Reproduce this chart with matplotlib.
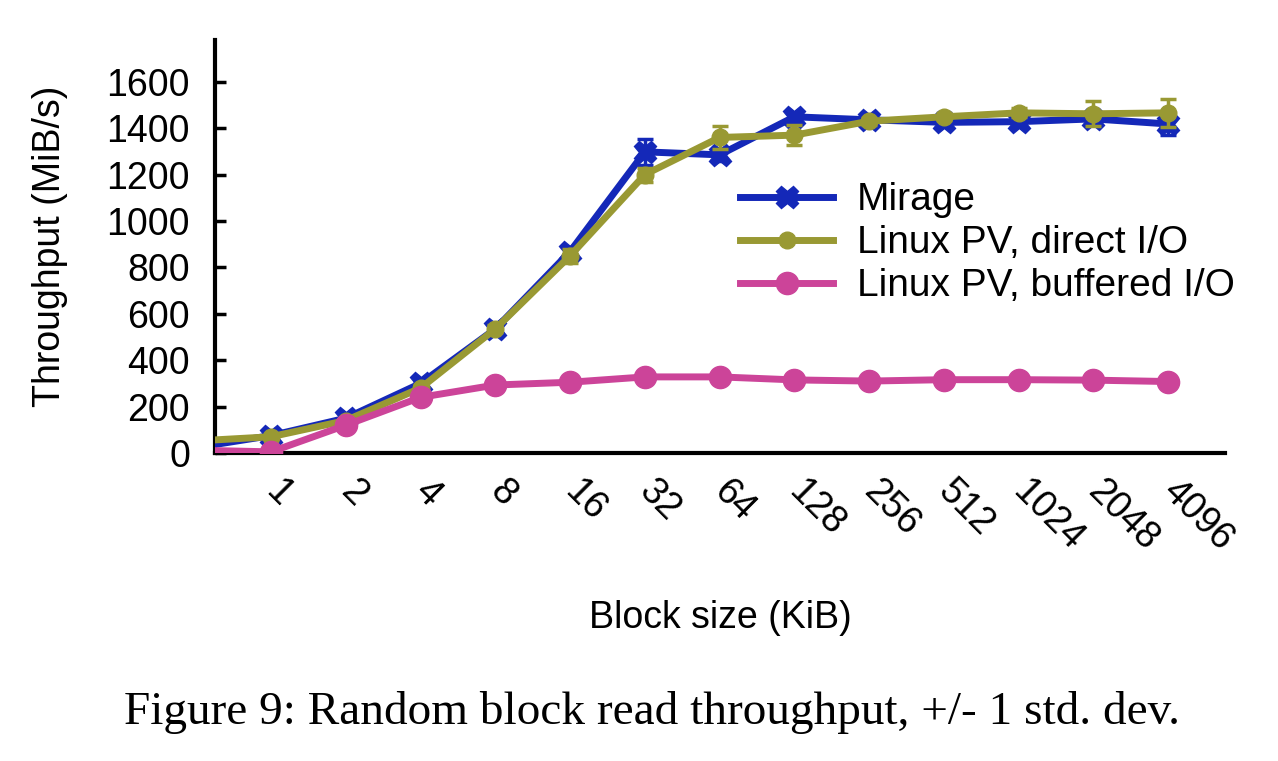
import numpy as np
import matplotlib.pyplot as plt
from matplotlib.lines import Line2D

plt.rcParams['font.family'] = ['Liberation Sans', 'DejaVu Sans']

block_kib = [0.5, 1, 2, 4, 8, 16, 32, 64, 128, 256, 512, 1024, 2048, 4096]
tick_labels = ['1', '2', '4', '8', '16', '32', '64', '128', '256', '512', '1024', '2048', '4096']

mirage = [24, 75, 150, 300, 535, 868, 1298, 1285, 1449, 1436, 1425, 1428, 1440, 1418]
mirage_err = [5, 8, 10, 12, 15, 20, 57, 25, 15, 15, 15, 18, 20, 47]
direct = [52, 70, 140, 280, 535, 850, 1200, 1360, 1370, 1430, 1449, 1466, 1462, 1466]
direct_err = [5, 8, 10, 12, 15, 30, 30, 50, 43, 15, 15, 20, 54, 60]
buffered = [12, 5, 120, 240, 293, 305, 328, 328, 315, 310, 316, 316, 314, 308]

x = np.log2(block_kib)

fig = plt.figure(figsize=(12.78, 7.61), dpi=100)
ax = fig.add_axes([215 / 1278, 1 - 453 / 761, 1010 / 1278, 413 / 761])

blue = '#1428b8'
olive = '#999933'
pink = '#cc4499'

ax.errorbar(x, mirage, yerr=mirage_err, color=blue, lw=5, marker='X', ms=16,
            capsize=6, elinewidth=2.5, capthick=2.5, zorder=3)
ax.errorbar(x, direct, yerr=direct_err, color=olive, lw=5, marker='o', ms=12,
            capsize=6, elinewidth=2.5, capthick=2.5, zorder=4)
ax.plot(x, buffered, color=pink, lw=5, marker='o', ms=16, zorder=5)

ax.set_xlim(-0.75, 12.76)
ax.set_ylim(0, 1780)
ax.set_yticks(range(0, 1601, 200))
ax.set_xticks(x[1:])
ax.set_xticklabels(tick_labels, rotation=-45, ha='left', va='center',
                   rotation_mode='anchor', fontsize=27)
ax.tick_params(axis='x', length=0, pad=24)
ax.tick_params(axis='y', direction='in', length=8, width=2.5, labelsize=27, pad=18)
for s in ['top', 'right']:
    ax.spines[s].set_visible(False)
for s in ['left', 'bottom']:
    ax.spines[s].set_linewidth(3)

ax.set_ylabel('Throughput (MiB/s)', fontsize=27, labelpad=28)
ax.set_xlabel('Block size (KiB)', fontsize=27, labelpad=30)

handles = [
    Line2D([], [], color=blue, lw=5, marker='X', ms=16),
    Line2D([], [], color=olive, lw=5, marker='o', ms=12),
    Line2D([], [], color=pink, lw=5, marker='o', ms=16),
]
labels = ['Mirage', 'Linux PV, direct I/O', 'Linux PV, buffered I/O']
ax.legend(handles, labels, loc='upper left', bbox_to_anchor=(525 / 1010, 0.655),
          frameon=False, fontsize=28, handlelength=2.4, handletextpad=0.6,
          labelspacing=0.18, borderpad=0, borderaxespad=0)

fig.text(0.51, 1 - 713 / 761, 'Figure 9: Random block read throughput, +/- 1 std. dev.',
         ha='center', va='center', fontsize=34, family='Liberation Serif')

fig.savefig('out.png', dpi=100)
